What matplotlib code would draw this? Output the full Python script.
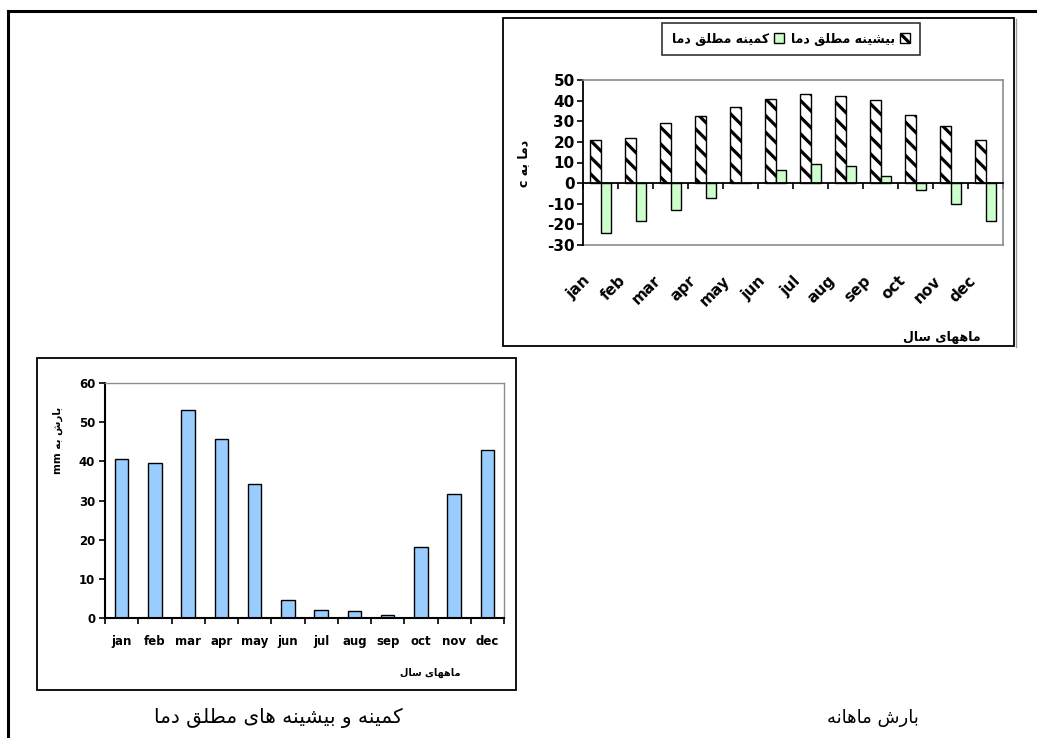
import matplotlib
matplotlib.use("Agg")
import matplotlib.pyplot as plt
from matplotlib.patches import Rectangle, Patch
from matplotlib.lines import Line2D
import matplotlib.transforms as mtransforms

# ---- data -------------------------------------------------------------
months = ["jan", "feb", "mar", "apr", "may", "jun",
          "jul", "aug", "sep", "oct", "nov", "dec"]
temp_max = [21.1, 21.9, 29.1, 32.5, 36.8, 41.0, 43.1, 42.4, 40.4, 33.1, 27.5, 21.1]
temp_min = [-24.4, -18.6, -13.0, -7.4, 0.0, 6.3, 9.2, 8.5, 3.5, -3.1, -10.1, -18.6]
precip = [40.7, 39.5, 53.1, 45.6, 34.1, 4.7, 2.0, 1.7, 0.85, 18.2, 31.7, 42.8]
temp_ticks = [-30, -20, -10, 0, 10, 20, 30, 40, 50]
precip_ticks = [0, 10, 20, 30, 40, 50, 60]

label_max = "بیشینه مطلق دما"
label_min = "کمینه مطلق دما"
xlabel_fa = "ماههای سال"
ylabel_temp = "دما به c"
ylabel_prec = "بارش به mm"
caption_prec = "بارش ماهانه"
caption_temp = "کمینه و بیشینه های مطلق دما"

# ---- minimal Persian shaping (matplotlib has no bidi / joining) -------
# isolated, final, initial, medial
_FORMS = {
    "\u0627": ("\uFE8D", "\uFE8E", None, None),
    "\u0628": ("\uFE8F", "\uFE90", "\uFE91", "\uFE92"),
    "\u062F": ("\uFEA9", "\uFEAA", None, None),
    "\u0631": ("\uFEAD", "\uFEAE", None, None),
    "\u0633": ("\uFEB1", "\uFEB2", "\uFEB3", "\uFEB4"),
    "\u0634": ("\uFEB5", "\uFEB6", "\uFEB7", "\uFEB8"),
    "\u0637": ("\uFEC1", "\uFEC2", "\uFEC3", "\uFEC4"),
    "\u0642": ("\uFED5", "\uFED6", "\uFED7", "\uFED8"),
    "\u0644": ("\uFEDD", "\uFEDE", "\uFEDF", "\uFEE0"),
    "\u0645": ("\uFEE1", "\uFEE2", "\uFEE3", "\uFEE4"),
    "\u0646": ("\uFEE5", "\uFEE6", "\uFEE7", "\uFEE8"),
    "\u0647": ("\uFEE9", "\uFEEA", "\uFEEB", "\uFEEC"),
    "\u0648": ("\uFEED", "\uFEEE", None, None),
    "\u06A9": ("\uFB8E", "\uFB8F", "\uFB90", "\uFB91"),
    "\u06CC": ("\uFBFC", "\uFBFD", "\uFBFE", "\uFBFF"),
}


def _shape_word(w):
    out = []
    for i, ch in enumerate(w):
        f = _FORMS.get(ch)
        if f is None:
            out.append(ch)
            continue
        prev = _FORMS.get(w[i - 1]) if i > 0 else None
        nxt = _FORMS.get(w[i + 1]) if i + 1 < len(w) else None
        jp = prev is not None and prev[2] is not None
        jn = nxt is not None and f[2] is not None
        if jp and jn:
            out.append(f[3])
        elif jp:
            out.append(f[1])
        elif jn:
            out.append(f[2])
        else:
            out.append(f[0])
    return "".join(reversed(out))


def rtl(text):
    words = text.split(" ")
    return " ".join(_shape_word(w) if any(c in _FORMS for c in w) else w
                    for w in reversed(words))


# ---- figure -----------------------------------------------------------
W, H = 1037, 738
plt.rcParams["font.family"] = ["DejaVu Sans"]
plt.rcParams["hatch.linewidth"] = 2.3
fig = plt.figure(figsize=(W / 100, H / 100), dpi=100)
fig.patch.set_facecolor("white")


def fbox(x0, y0, x1, y1):
    """pixel box (top-left origin) -> figure rect"""
    return [x0 / W, 1 - y1 / H, (x1 - x0) / W, (y1 - y0) / H]


def fline(xs, ys, **kw):
    fig.add_artist(Line2D([x / W for x in xs], [1 - y / H for y in ys],
                          transform=fig.transFigure, **kw))


def frect(x0, y0, x1, y1, **kw):
    fig.add_artist(Rectangle((x0 / W, 1 - y1 / H), (x1 - x0) / W, (y1 - y0) / H,
                             transform=fig.transFigure, fill=False, **kw))


# page frame
fline([8, 1037], [11, 11], color="black", lw=2.2)
fline([8, 8], [11, 738], color="black", lw=2.2)

# chart frames
frect(503, 18, 1014, 346, edgecolor="black", lw=1.3)
fline([1015.5, 1015.5], [19, 347], color="#9a9a9a", lw=1)
frect(37, 358, 516, 690, edgecolor="black", lw=1.3)

x = list(range(len(months)))
gray = "#8c8c8c"

# ---- temperature extremes chart --------------------------------------
ax1 = fig.add_axes(fbox(583, 80, 1003, 245))
bw = 0.286
ax1.bar([i - bw / 2 for i in x], temp_max, width=bw, facecolor="white",
        edgecolor="black", hatch="\\\\", linewidth=1.0, zorder=2)
ax1.bar([i + bw / 2 for i in x], temp_min, width=bw, facecolor="#ccffcc",
        edgecolor="black", linewidth=1.0, zorder=2)
ax1.set_xlim(-0.5, len(months) - 0.5)
ax1.set_ylim(temp_ticks[0], temp_ticks[-1])
ax1.set_yticks(temp_ticks)
ax1.set_yticklabels([str(t) for t in temp_ticks], fontsize=11, fontweight="bold")
ax1.set_xticks([i - 0.5 for i in range(len(months) + 1)])
ax1.set_xticklabels([])
ax1.tick_params(axis="x", direction="out", length=4, width=1.2, color="black")
ax1.tick_params(axis="y", direction="out", length=4, width=1.2, pad=2)
ax1.spines["bottom"].set_position(("data", 0))
ax1.spines["bottom"].set_linewidth(1.3)
ax1.spines["left"].set_linewidth(1.3)
for s in ("top", "right"):
    ax1.spines[s].set_color(gray)
    ax1.spines[s].set_linewidth(1.2)
ax1.plot([0, 1], [0, 0], transform=ax1.transAxes, color=gray, lw=1.2,
         clip_on=False, zorder=1)
lab_tr = mtransforms.blended_transform_factory(ax1.transData, ax1.transAxes)
for i, m in enumerate(months):
    ax1.text(i - 0.2, -0.17, m, transform=lab_tr, rotation=45, ha="right",
             va="top", fontsize=11, fontweight="bold")

fig.text(942 / W, 1 - 337 / H, rtl(xlabel_fa), ha="center", va="center",
         fontsize=9, fontweight="bold")
fig.text(524 / W, 1 - 163 / H, rtl(ylabel_temp), ha="center", va="center",
         rotation=90, fontsize=9, fontweight="bold")

leg_handles = [Patch(facecolor="#ccffcc", edgecolor="black", linewidth=1.0),
               Patch(facecolor="white", edgecolor="black", hatch="\\\\", linewidth=1.0)]
leg = fig.legend(leg_handles, [rtl(label_min), rtl(label_max)], ncol=2,
                 loc="center", bbox_to_anchor=(791 / W, 1 - 39 / H),
                 markerfirst=False, frameon=True, fancybox=False,
                 prop={"size": 9, "weight": "bold"}, handlelength=0.8,
                 handleheight=0.8, handletextpad=0.4, columnspacing=0.6,
                 borderpad=0.75, borderaxespad=0)
leg.get_frame().set_edgecolor("black")
leg.get_frame().set_linewidth(1.2)

# ---- monthly precipitation chart -------------------------------------
ax2 = fig.add_axes(fbox(105, 383, 504, 618))
ax2.bar(x, precip, width=0.4, facecolor="#99ccff", edgecolor="black",
        linewidth=1.0, zorder=2)
ax2.set_xlim(-0.5, len(months) - 0.5)
ax2.set_ylim(precip_ticks[0], precip_ticks[-1])
ax2.set_yticks(precip_ticks)
ax2.set_yticklabels([str(t) for t in precip_ticks], fontsize=8.5, fontweight="bold")
ax2.set_xticks([i - 0.5 for i in range(len(months) + 1)])
ax2.set_xticklabels([])
ax2.set_xticks(x, minor=True)
ax2.set_xticklabels(months, minor=True, fontsize=8.5, fontweight="bold")
ax2.tick_params(axis="x", which="major", direction="out", length=4, width=1.2)
ax2.tick_params(axis="x", which="minor", length=0, pad=12)
ax2.tick_params(axis="y", direction="out", length=4, width=1.2, pad=3)
ax2.spines["bottom"].set_linewidth(1.5)
ax2.spines["left"].set_linewidth(1.5)
for s in ("top", "right"):
    ax2.spines[s].set_color(gray)
    ax2.spines[s].set_linewidth(1.0)

fig.text(430 / W, 1 - 673 / H, rtl(xlabel_fa), ha="center", va="center",
         fontsize=7, fontweight="bold")
fig.text(58 / W, 1 - 440 / H, rtl(ylabel_prec), ha="center", va="center",
         rotation=90, fontsize=7.5, fontweight="bold")

# ---- captions ---------------------------------------------------------
fig.text(873 / W, 1 - 718 / H, rtl(caption_prec), ha="center", va="center",
         fontsize=13)
fig.text(278 / W, 1 - 718 / H, rtl(caption_temp), ha="center", va="center",
         fontsize=14.5)

fig.savefig("out.png", dpi=100, facecolor="white")
